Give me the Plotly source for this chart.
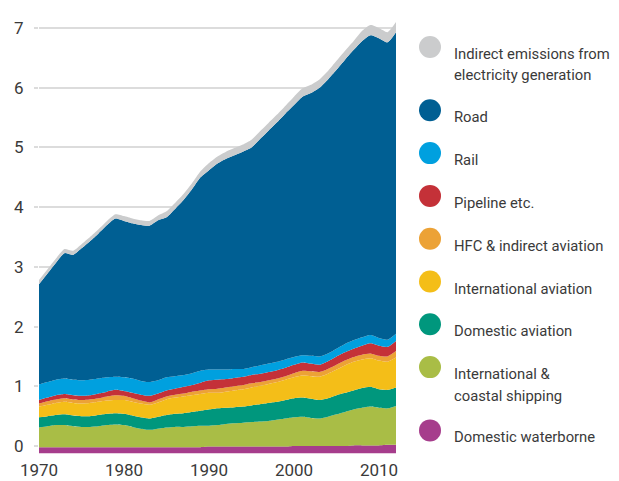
import plotly.graph_objects as go

years = list(range(1970, 2013))

# Series values (Gt CO2-eq), bottom to top
domestic_waterborne = [0.10] * 20 + [0.11] * 10 + [0.12] * 7 + [0.13] * 4 + [0.14] * 2
intl_coastal_shipping = [0.33, 0.35, 0.37, 0.37, 0.35, 0.34, 0.34, 0.35, 0.37, 0.38,
                         0.37, 0.34, 0.31, 0.29, 0.31, 0.33, 0.34, 0.34, 0.35, 0.36,
                         0.35, 0.36, 0.38, 0.39, 0.40, 0.41, 0.42, 0.43, 0.45, 0.47,
                         0.48, 0.49, 0.47, 0.46, 0.49, 0.53, 0.57, 0.60, 0.63, 0.65,
                         0.63, 0.61, 0.65]
domestic_aviation = [0.17, 0.17, 0.17, 0.18, 0.18, 0.18, 0.18, 0.19, 0.19, 0.19,
                     0.19, 0.19, 0.19, 0.19, 0.20, 0.21, 0.22, 0.23, 0.24, 0.25,
                     0.27, 0.28, 0.27, 0.27, 0.27, 0.28, 0.29, 0.30, 0.30, 0.31,
                     0.32, 0.32, 0.32, 0.31, 0.31, 0.32, 0.32, 0.32, 0.33, 0.33,
                     0.31, 0.31, 0.31]
international_aviation = [0.18, 0.19, 0.20, 0.21, 0.21, 0.21, 0.22, 0.22, 0.22, 0.22,
                          0.23, 0.23, 0.23, 0.23, 0.24, 0.26, 0.27, 0.28, 0.28, 0.28,
                          0.28, 0.26, 0.27, 0.28, 0.29, 0.30, 0.31, 0.32, 0.33, 0.34,
                          0.35, 0.37, 0.38, 0.39, 0.41, 0.43, 0.46, 0.48, 0.48, 0.48,
                          0.48, 0.47, 0.50]
hfc_indirect_aviation = [0.05, 0.06, 0.06, 0.06, 0.06, 0.06, 0.06, 0.06, 0.07, 0.08,
                         0.07, 0.06, 0.05, 0.04, 0.05, 0.05, 0.05, 0.05, 0.06, 0.06,
                         0.06, 0.07, 0.07, 0.07, 0.07, 0.07, 0.06, 0.06, 0.06, 0.06,
                         0.07, 0.08, 0.08, 0.08, 0.08, 0.08, 0.08, 0.08, 0.08, 0.08,
                         0.08, 0.09, 0.11]
pipeline_etc = [0.06, 0.06, 0.07, 0.07, 0.07, 0.07, 0.07, 0.08, 0.08, 0.09,
                0.08, 0.09, 0.10, 0.11, 0.10, 0.10, 0.10, 0.11, 0.11, 0.13,
                0.15, 0.15, 0.14, 0.14, 0.14, 0.14, 0.14, 0.14, 0.14, 0.14,
                0.14, 0.14, 0.13, 0.12, 0.13, 0.14, 0.14, 0.14, 0.15, 0.17,
                0.17, 0.16, 0.17]
rail = [0.26, 0.26, 0.26, 0.26, 0.26, 0.26, 0.26, 0.25, 0.24, 0.22,
        0.23, 0.24, 0.23, 0.23, 0.22, 0.22, 0.21, 0.20, 0.20, 0.20,
        0.18, 0.17, 0.16, 0.15, 0.13, 0.13, 0.14, 0.14, 0.14, 0.14,
        0.13, 0.12, 0.13, 0.14, 0.13, 0.13, 0.14, 0.14, 0.14, 0.14,
        0.13, 0.12, 0.12]
road = [1.68, 1.82, 1.96, 2.10, 2.09, 2.21, 2.32, 2.43, 2.55, 2.65,
        2.62, 2.60, 2.61, 2.62, 2.68, 2.68, 2.80, 2.93, 3.08, 3.24,
        3.34, 3.45, 3.53, 3.58, 3.64, 3.68, 3.79, 3.90, 4.01, 4.12,
        4.22, 4.33, 4.40, 4.50, 4.59, 4.67, 4.76, 4.86, 4.96, 5.02,
        5.02, 4.98, 5.05]
indirect_electricity = [0.07] * 10 + [0.08] * 5 + [0.10] * 5 + [0.12] * 5 + [0.13] * 5 \
    + [0.14] * 5 + [0.15] * 3 + [0.17] * 5

# the published chart's stack starts slightly below the zero gridline
baseline_offset = [-0.12] * len(years)

series = [
    ("Domestic waterborne", domestic_waterborne, "#a63d8c"),
    ("International &<br>coastal shipping", intl_coastal_shipping, "#a9bd46"),
    ("Domestic aviation", domestic_aviation, "#00977d"),
    ("International aviation", international_aviation, "#f4be18"),
    ("HFC & indirect aviation", hfc_indirect_aviation, "#eca236"),
    ("Pipeline etc.", pipeline_etc, "#c43138"),
    ("Rail", rail, "#00a0df"),
    ("Road", road, "#005f93"),
    ("Indirect emissions from<br>electricity generation", indirect_electricity, "#cbcccd"),
]

legend_labels = [
    ["Indirect emissions from", "electricity generation"],
    ["Road"],
    ["Rail"],
    ["Pipeline etc."],
    ["HFC & indirect aviation"],
    ["International aviation"],
    ["Domestic aviation"],
    ["International &", "coastal shipping"],
    ["Domestic waterborne"],
]
legend_colors = ["#cbcccd", "#005f93", "#00a0df", "#c43138", "#eca236",
                 "#f4be18", "#00977d", "#a9bd46", "#a63d8c"]

y_ticks = [0, 1, 2, 3, 4, 5, 6, 7]
x_ticks = [1970, 1980, 1990, 2000, 2010]

FONT = "Roboto, Arial, sans-serif"
TXT = "#3a3a3a"

fig = go.Figure()
fig.add_trace(go.Scatter(x=years, y=baseline_offset, stackgroup="s", fill="none",
                         mode="lines", line=dict(width=0), showlegend=False,
                         hoverinfo="skip"))
for name, vals, col in series:
    fig.add_trace(go.Scatter(x=years, y=vals, name=name, stackgroup="s",
                             mode="lines", line=dict(width=0, shape="spline", smoothing=0.6),
                             fillcolor=col, showlegend=False))

# page has an 8px body margin; figure laid out in page pixels minus 8
OFF = 8
W, H = 611, 473
L, R, T, B = 31, 223, 10, 26
pw, ph = W - L - R, H - T - B


def px_x(page_x):
    return (page_x - OFF - L) / pw


def px_y(page_y):
    return (H - B - (page_y - OFF)) / ph


shapes = []
annotations = []
cy = 47.0
for lines, col in zip(legend_labels, legend_colors):
    shapes.append(dict(type="circle", xref="paper", yref="paper",
                       xsizemode="pixel", ysizemode="pixel",
                       xanchor=px_x(430), yanchor=px_y(cy),
                       x0=-11, x1=11, y0=-11, y1=11,
                       fillcolor=col, line=dict(width=0)))
    for i, ln in enumerate(lines):
        annotations.append(dict(text=ln, xref="paper", yref="paper",
                                x=px_x(452), y=px_y(cy + 7 + 21.5 * i),
                                xanchor="left", yanchor="middle", showarrow=False,
                                font=dict(family=FONT, size=14.8, color=TXT)))
    cy += 42.8 + 20.5 * (len(lines) - 1)

fig.update_layout(
    width=W, height=H,
    margin=dict(l=L, r=R, t=T, b=B, autoexpand=False),
    plot_bgcolor="white", paper_bgcolor="white",
    font=dict(family=FONT, size=17, color=TXT),
    showlegend=False,
    shapes=shapes,
    annotations=annotations,
    xaxis=dict(range=[1970, 2012], tickvals=x_ticks, showgrid=False, zeroline=False,
               showline=False, ticks="", ticklabelstandoff=3, automargin=False,
               tickfont=dict(family=FONT, size=17, color=TXT)),
    yaxis=dict(range=[-0.151, 7.168], tickvals=y_ticks, showgrid=True,
               gridcolor="#dcdcdc", gridwidth=2, zeroline=False, showline=False,
               ticks="outside", ticklen=4, tickcolor="#dcdcdc", tickwidth=2,
               ticklabelstandoff=7, automargin=False,
               tickfont=dict(family=FONT, size=17, color=TXT)),
)

fig.write_html("out.html")
